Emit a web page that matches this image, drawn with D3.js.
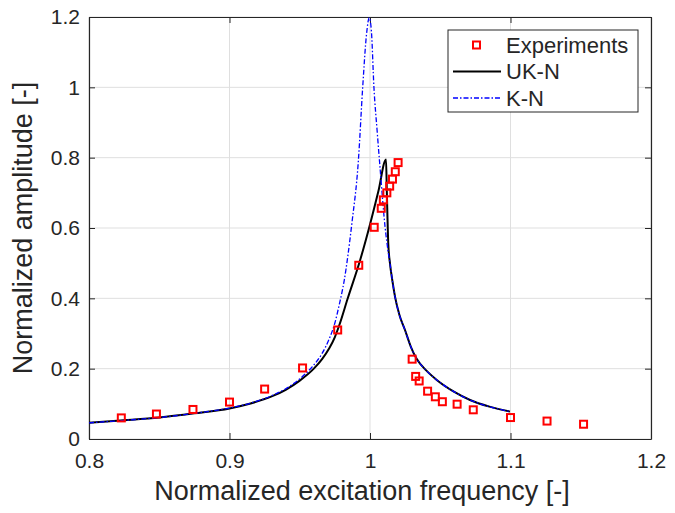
<!DOCTYPE html>
<html>
<head>
<meta charset="utf-8">
<script src="https://cdn.jsdelivr.net/npm/d3@7"></script>
<style>
  body { margin: 0; background: white; }
  text { font-family: "Liberation Sans", Arial, sans-serif; fill: #262626; }
</style>
</head>
<body>
<div id="chart"></div>
<script>
// Experimental points (normalized frequency, normalized amplitude)
const expFreq = [0.823, 0.848, 0.874, 0.900, 0.925, 0.952, 0.977, 0.992, 1.003, 1.008, 1.0095, 1.012, 1.014, 1.016, 1.018, 1.020,
                 1.030, 1.0325, 1.035, 1.041, 1.0465, 1.0515, 1.062, 1.0735, 1.100, 1.126, 1.152];
const expAmp  = [0.060, 0.071, 0.084, 0.105, 0.142, 0.202, 0.310, 0.494, 0.602, 0.656, 0.680, 0.700, 0.719, 0.739, 0.760, 0.786,
                 0.227, 0.178, 0.165, 0.136, 0.120, 0.106, 0.099, 0.083, 0.061, 0.051, 0.042];

// UK-N model curve
const uknFreq = [0.800, 0.825, 0.850, 0.875, 0.900, 0.915, 0.930, 0.940, 0.950, 0.960, 0.966, 0.971, 0.975, 0.978, 0.984, 0.993, 1.000, 1.006, 1.0114,
                 1.0120, 1.0130, 1.0142, 1.0160, 1.0178, 1.0210, 1.0249, 1.0290, 1.0332, 1.040, 1.0475, 1.060, 1.0712, 1.085, 1.0996];
const uknAmp  = [0.046, 0.053, 0.061, 0.073, 0.087, 0.101, 0.121, 0.140, 0.166, 0.200, 0.228, 0.258, 0.290, 0.322, 0.398, 0.509, 0.610, 0.705, 0.795,
                 0.700, 0.556, 0.500, 0.448, 0.405, 0.352, 0.310, 0.263, 0.228, 0.195, 0.168, 0.134, 0.111, 0.092, 0.078];

// K-N model curve
const knFreq = [0.800, 0.825, 0.850, 0.875, 0.900, 0.915, 0.930, 0.940, 0.950, 0.959, 0.966, 0.971, 0.975, 0.978, 0.9817, 0.9870, 0.9917, 0.9948, 0.9975, 0.9995,
                1.0010, 1.0028, 1.0050, 1.0071, 1.0107, 1.0131, 1.0142, 1.0160, 1.0178, 1.0210, 1.0249, 1.0290, 1.0332, 1.040, 1.0475, 1.060, 1.0712, 1.085, 1.0996];
const knAmp  = [0.046, 0.053, 0.061, 0.073, 0.088, 0.102, 0.123, 0.143, 0.171, 0.206, 0.244, 0.285, 0.330, 0.380, 0.452, 0.610, 0.790, 1.000, 1.150, 1.198,
                1.160, 1.000, 0.880, 0.774, 0.604, 0.528, 0.500, 0.448, 0.405, 0.352, 0.310, 0.263, 0.228, 0.195, 0.168, 0.134, 0.111, 0.092, 0.078];

const xTicks = [0.8, 0.9, 1, 1.1, 1.2];
const yTicks = [0, 0.2, 0.4, 0.6, 0.8, 1, 1.2];

let width = 675, height = 513;
let margin = { top: 17, left: 89, right: 24, bottom: 74 };

let svg = d3.select('#chart')
            .append('svg')
            .attr('width', width)
            .attr('height', height)
            .style('background', 'white');

const x = d3.scaleLinear().domain([0.8, 1.2]).range([margin.left, width - margin.right]);
const y = d3.scaleLinear().domain([0, 1.2]).range([height - margin.bottom, margin.top]);

// grid
svg.append('g')
   .selectAll('line.gx')
   .data(xTicks)
   .enter().append('line')
   .attr('x1', d => x(d)).attr('x2', d => x(d))
   .attr('y1', y(0)).attr('y2', y(1.2))
   .attr('stroke', '#dfdfdf').attr('stroke-width', 1);

svg.append('g')
   .selectAll('line.gy')
   .data(yTicks)
   .enter().append('line')
   .attr('x1', x(0.8)).attr('x2', x(1.2))
   .attr('y1', d => y(d)).attr('y2', d => y(d))
   .attr('stroke', '#dfdfdf').attr('stroke-width', 1);

// axes (ticks inside, box on)
const fmt = d => d3.format('')(d);
let xaxis = svg.append('g')
   .attr('transform', `translate(0, ${y(0)})`)
   .call(d3.axisBottom(x).tickValues(xTicks).tickFormat(fmt).tickSizeInner(-6).tickSizeOuter(0).tickPadding(14));
let xaxisTop = svg.append('g')
   .attr('transform', `translate(0, ${y(1.2)})`)
   .call(d3.axisTop(x).tickValues(xTicks).tickFormat('').tickSizeInner(-6).tickSizeOuter(0));
let yaxis = svg.append('g')
   .attr('transform', `translate(${x(0.8)}, 0)`)
   .call(d3.axisLeft(y).tickValues(yTicks).tickFormat(fmt).tickSizeInner(-6).tickSizeOuter(0).tickPadding(9));
let yaxisRight = svg.append('g')
   .attr('transform', `translate(${x(1.2)}, 0)`)
   .call(d3.axisRight(y).tickValues(yTicks).tickFormat('').tickSizeInner(-6).tickSizeOuter(0));

[xaxis, xaxisTop, yaxis, yaxisRight].forEach(a => {
  a.select('.domain').attr('stroke', '#262626').attr('stroke-width', 1.2);
  a.selectAll('.tick line').attr('stroke', '#262626');
  a.selectAll('.tick text').attr('font-size', '21px').attr('fill', '#262626')
   .style('font-family', '"Liberation Sans", Arial, sans-serif');
});

// curves
const line = d3.line().x(d => x(d[0])).y(d => y(d[1])).curve(d3.curveMonotoneX);

svg.append('path')
   .datum(uknFreq.map((f, i) => [f, uknAmp[i]]))
   .attr('d', line)
   .attr('fill', 'none')
   .attr('stroke', 'black')
   .attr('stroke-width', 2);

svg.append('path')
   .datum(knFreq.map((f, i) => [f, knAmp[i]]))
   .attr('d', line)
   .attr('fill', 'none')
   .attr('stroke', '#0000ff')
   .attr('stroke-width', 1.3)
   .attr('stroke-dasharray', '5,2,1.5,2');

// experiment markers
svg.append('g')
   .selectAll('rect')
   .data(expFreq.map((f, i) => [f, expAmp[i]]))
   .enter().append('rect')
   .attr('x', d => x(d[0]) - 3.5)
   .attr('y', d => y(d[1]) - 3.5)
   .attr('width', 7).attr('height', 7)
   .attr('fill', 'none')
   .attr('stroke', '#ff0000')
   .attr('stroke-width', 2);

// axis labels
svg.append('text')
   .attr('x', 362)
   .attr('y', 500)
   .attr('text-anchor', 'middle')
   .attr('font-size', '27px')
   .text('Normalized excitation frequency [-]');

svg.append('text')
   .attr('transform', 'rotate(-90)')
   .attr('x', -(y(0) + y(1.2)) / 2)
   .attr('y', 32)
   .attr('text-anchor', 'middle')
   .attr('font-size', '27px')
   .text('Normalized amplitude [-]');

// legend
const legend = svg.append('g').attr('transform', 'translate(448, 30)');
legend.append('rect')
      .attr('x', 0).attr('y', 0).attr('width', 190).attr('height', 82)
      .attr('fill', 'white').attr('stroke', '#262626').attr('stroke-width', 1);

legend.append('rect')
      .attr('x', 25).attr('y', 11.5).attr('width', 7).attr('height', 7)
      .attr('fill', 'none').attr('stroke', '#ff0000').attr('stroke-width', 2);
legend.append('line')
      .attr('x1', 5).attr('x2', 53).attr('y1', 41.5).attr('y2', 41.5)
      .attr('stroke', 'black').attr('stroke-width', 2);
legend.append('line')
      .attr('x1', 5).attr('x2', 53).attr('y1', 68).attr('y2', 68)
      .attr('stroke', '#0000ff').attr('stroke-width', 1.3).attr('stroke-dasharray', '5,2,1.5,2');

const labels = ['Experiments', 'UK-N', 'K-N'];
labels.forEach((t, i) => {
  legend.append('text')
        .attr('x', 58)
        .attr('y', 15 + i * 26.5)
        .attr('dy', '0.35em')
        .attr('font-size', '22px')
        .text(t);
});
</script>
</body>
</html>
